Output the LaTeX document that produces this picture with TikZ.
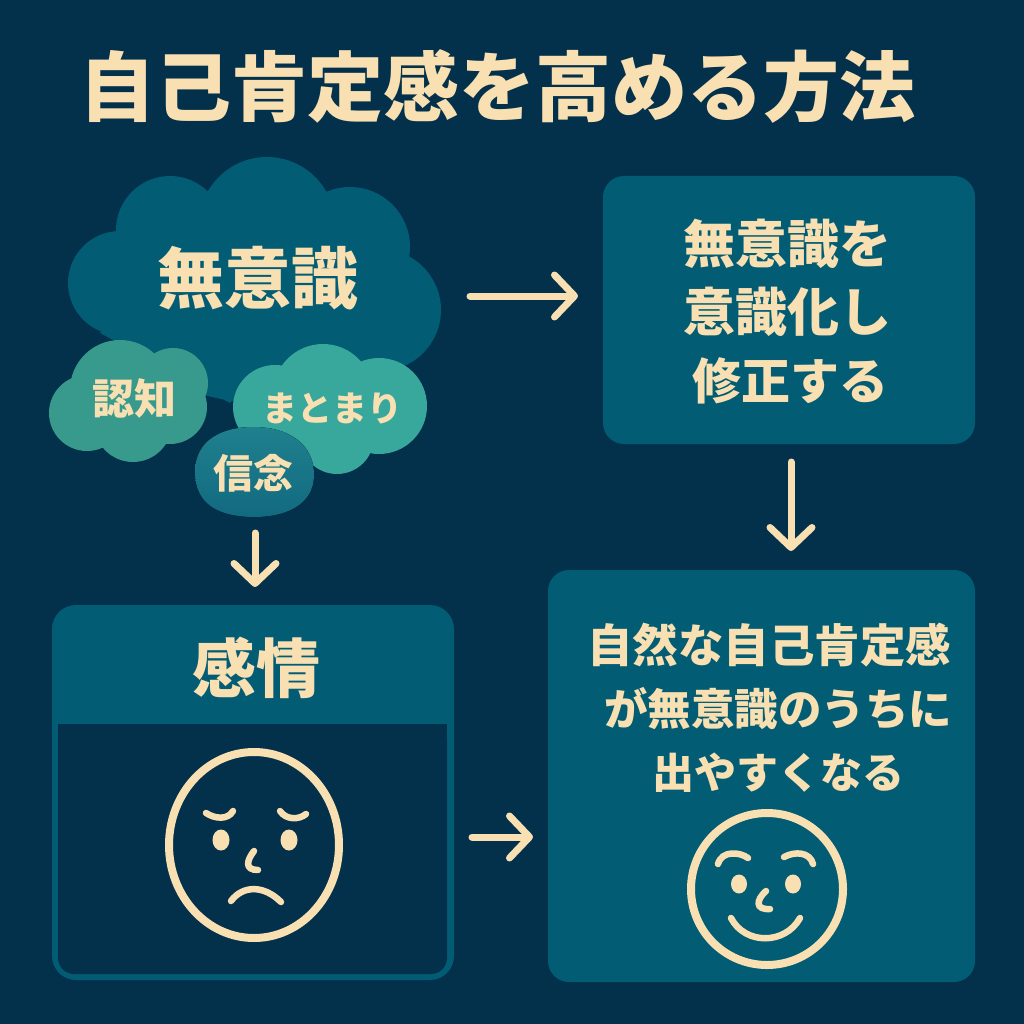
\documentclass[tikz,border=0pt]{standalone}
\usepackage{fontspec}
\usetikzlibrary{arrows.meta}
\newfontfamily\jpb{Noto Sans CJK JP}
\definecolor{bgc}{HTML}{03304A}
\definecolor{boxc}{HTML}{025C74}
\definecolor{cream}{HTML}{F8E0B2}
\definecolor{cogc}{HTML}{379A8C}
\definecolor{matc}{HTML}{38A89D}
\definecolor{shinA}{HTML}{1F808E}
\definecolor{shinB}{HTML}{126A80}
\newcommand{\fsz}[2]{\jpb\bfseries\fontsize{#1}{#2}\selectfont}
\newcommand{\sz}[1]{\fontsize{#1}{63}\selectfont}
\tikzset{
  txt/.style={text=cream,inner sep=0pt,align=center},
  flow/.style={draw=cream,line width=7pt,line cap=round,-{Straight Barb[length=20pt,width=42pt,round]}},
  stroke/.style={draw=cream,line width=8pt},
  feat/.style={draw=cream,line width=6.5pt,line cap=round},
  panel/.style={fill=boxc,rounded corners=21pt},
}
\begin{document}
\begin{tikzpicture}[x=1pt,y=-1pt]
\useasboundingbox (0,0) rectangle (1024,1024);
\fill[bgc] (0,0) rectangle (1024,1024);
% title
\node[txt,font=\fsz{76}{80}] (title) at (497,87) {自己肯定感を高める方法};
% main cloud
\fill[boxc] (267,225) circle[radius=68] (170,230) circle[radius=54] (120,283) circle[radius=52]
  (350,247) circle[radius=60] (380,310) circle[radius=61] (265,310) ellipse[x radius=150,y radius=93];
\fill[boxc] (100,333) -- (230,403) -- (300,330) -- (150,280) -- cycle;
\node[txt,font=\fsz{67}{70}] (muishiki) at (258,278) {無意識};
% cognition cloud
\fill[cogc] (87,413) circle[radius=38] (120,390) circle[radius=50] (173,383) circle[radius=35]
  (170,407) circle[radius=37] (133,423) circle[radius=39] (140,400) circle[radius=40];
\node[txt,font=\fsz{42}{46}] (ninchi) at (134,398) {認知};
% matomari cloud
\fill[matc] (275,407) circle[radius=42] (323,394) circle[radius=50] (379,406) circle[radius=48]
  (337,437) circle[radius=37] (330,410) circle[radius=50] (285,420) circle[radius=30];
\node[txt,font=\fsz{35}{38}] (matomari) at (332,408) {まとまり};
% belief blob
\fill[top color=shinA,bottom color=shinB]
  (195,472) .. controls (195,440) and (222,427) .. (253,427) .. controls (290,427) and (314,445) .. (314,475)
  .. controls (314,505) and (285,517) .. (255,517) .. controls (218,517) and (195,504) .. (195,472) -- cycle;
\node[txt,font=\fsz{40}{44}] (shinnen) at (253,473) {信念};
% panels
\fill[panel] (603,176) rectangle (975,444);
\node[txt,font=\fsz{52}{68}] (shusei) at (787,312) {無意識を\\意識化し\\\hspace*{6pt}\fontsize{49}{68}\selectfont 修正する};
\fill[panel] (548,570) rectangle (975,982);
\node[txt,font=\fsz{45.5}{63}] (shizen) at (769,708) {自然な自己肯定感\\\hspace*{18pt}\sz{43.5}が無意識のうちに\\\hspace*{19pt}\sz{42}出やすくなる};
\fill[panel,rounded corners=24pt] (52,605) rectangle (454,980);
\fill[bgc,rounded corners=16pt] (58,724) -- (447,724) -- (447,974) -- (58,974) -- cycle;
\fill[bgc] (58,724) rectangle (447,750);
\node[txt,font=\fsz{64}{68}] (kanjo) at (256,668) {感情};
% sad face
\draw[stroke] (254,845) ellipse[x radius=85,y radius=93];
\draw[feat] (206,813) .. controls (215,819) and (228,820) .. (233,811);
\draw[feat] (280,811) .. controls (286,820) and (299,820) .. (306,814);
\fill[cream] (221,840) ellipse[x radius=8.5,y radius=10.5] (289,840) ellipse[x radius=8.5,y radius=10.5];
\draw[feat] (254,851) .. controls (247,860) and (244,870) .. (258,870);
\draw[feat] (231,901) .. controls (243,885) and (264,885) .. (281,902);
% happy face
\draw[stroke] (767,889) circle[radius=76];
\draw[feat] (718,864) .. controls (722,850) and (740,852) .. (748,858);
\draw[feat] (784,857) .. controls (795,851) and (810,852) .. (813,864);
\fill[cream] (739,884) ellipse[x radius=8,y radius=9.5] (793,884) ellipse[x radius=8,y radius=9.5];
\draw[feat] (766,891) .. controls (756,900) and (755,910) .. (770,909);
\draw[feat] (731,918) .. controls (745,945) and (785,945) .. (800,918);
% connectors
\coordinate (a1) at (470,296); \coordinate (a2) at (578,296);
\coordinate (b1) at (791,462); \coordinate (b2) at (791,551);
\coordinate (c1) at (255,533); \coordinate (c2) at (255,587);
\coordinate (d1) at (472,837); \coordinate (d2) at (533,837);
\draw[flow] (a1) -- (a2);
\draw[flow] (b1) -- (b2);
\draw[flow] (c1) -- (c2);
\draw[flow] (d1) -- (d2);
\end{tikzpicture}
\end{document}
